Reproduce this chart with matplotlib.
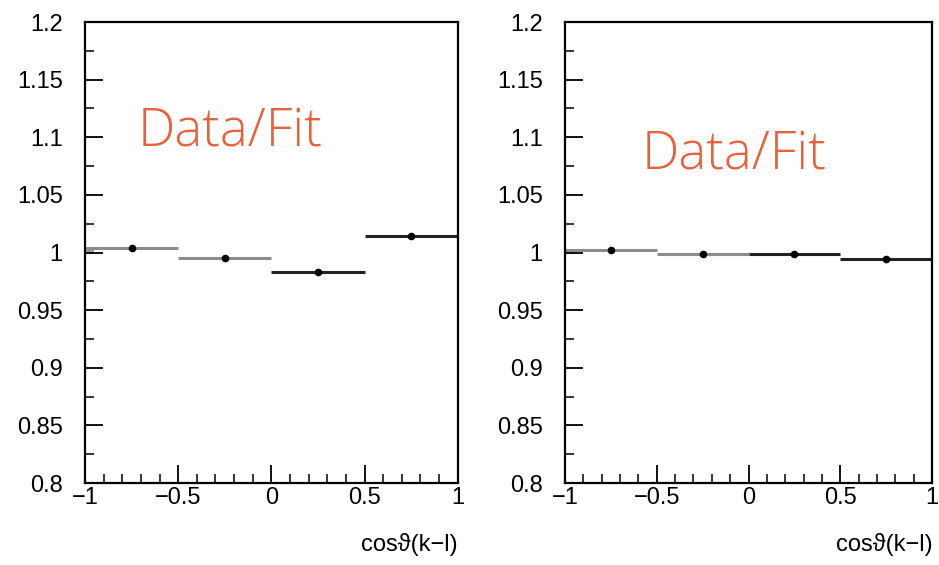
import matplotlib
matplotlib.use("Agg")
import matplotlib.pyplot as plt
from matplotlib.ticker import MultipleLocator, FixedLocator
import numpy as np

# Bin edges in cos(theta) and the Data/Fit ratio per bin
bin_edges = [-1.0, -0.5, 0.0, 0.5, 1.0]
ratio_left = [1.004, 0.995, 0.983, 1.014]
ratio_right = [1.002, 0.9987, 0.999, 0.9944]
bin_colors = ["#8c8c8c", "#8c8c8c", "#222222", "#222222"]
y_ticks = [0.8, 0.85, 0.9, 0.95, 1.0, 1.05, 1.1, 1.15, 1.2]
y_tick_labels = ["0.8", "0.85", "0.9", "0.95", "1", "1.05", "1.1", "1.15", "1.2"]
x_ticks = [-1, -0.5, 0, 0.5, 1]
x_tick_labels = ["\u22121", "\u22120.5", "0", "0.5", "1"]

plt.rcParams["font.family"] = ["Liberation Sans", "DejaVu Sans"]

fig = plt.figure(figsize=(9.39, 5.65), dpi=100)
ax_l = fig.add_axes([0.0905, 0.145, 0.397, 0.816])
ax_r = fig.add_axes([0.6017, 0.145, 0.391, 0.816])


def draw_panel(ax, ratios, text_xy):
    edges = np.array(bin_edges)
    centers = 0.5 * (edges[:-1] + edges[1:])
    for lo, hi, v, c in zip(edges[:-1], edges[1:], ratios, bin_colors):
        ax.hlines(v, lo, hi, colors=c, linewidth=2.2)
    # reference stub at the left edge
    ax.add_patch(plt.Rectangle((-1.0, 0.9985), 0.05, 0.004,
                               facecolor="#9a9a9a", edgecolor="none"))
    ax.plot(centers, ratios, "o", color="black", markersize=4.5)

    ax.set_xlim(-1, 1)
    ax.set_ylim(0.8, 1.2)
    ax.yaxis.set_major_locator(FixedLocator(y_ticks))
    ax.set_yticklabels(y_tick_labels)
    ax.yaxis.set_minor_locator(MultipleLocator(0.025))
    ax.xaxis.set_major_locator(FixedLocator(x_ticks))
    ax.set_xticklabels(x_tick_labels)
    ax.xaxis.set_minor_locator(MultipleLocator(0.1))
    ax.tick_params(axis="both", which="major", direction="in", length=13,
                   width=1.3, labelsize=17, color="black")
    ax.tick_params(axis="y", which="major", pad=16)
    ax.tick_params(axis="x", which="major", pad=3)
    ax.tick_params(axis="both", which="minor", direction="in", length=6.5,
                   width=1.1, color="black")
    ax.tick_params(axis="x", which="both", top=False)
    ax.tick_params(axis="y", which="both", right=False)
    for s in ax.spines.values():
        s.set_linewidth(1.6)
        s.set_color("black")
    ax.set_xlabel("cos\u03d1(k\u2212l)", fontsize=17, loc="right", labelpad=17)
    ax.text(text_xy[0], text_xy[1], "Data/Fit", transform=ax.transAxes,
            fontsize=38, color="#e8603c", ha="left", va="center",
            family=["Open Sans", "DejaVu Sans"], fontweight="light")


draw_panel(ax_l, ratio_left, (0.14, 0.76))
draw_panel(ax_r, ratio_right, (0.21, 0.71))

fig.savefig("out.png", dpi=100)
